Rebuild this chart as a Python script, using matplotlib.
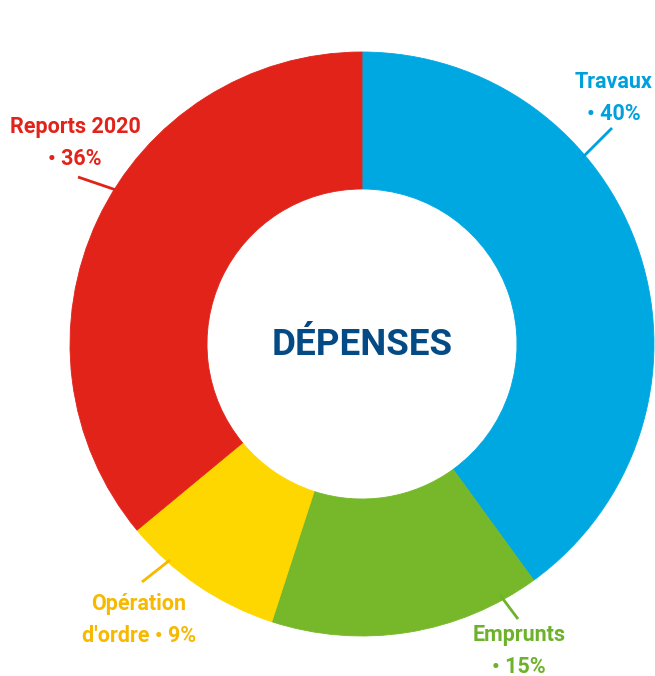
import matplotlib.pyplot as plt

# ── data ──────────────────────────────────────────────
categories = ["Travaux", "Emprunts", "Opération d'ordre", "Reports 2020"]
shares = [40, 15, 9, 36]
colors = ["#00A8E1", "#76B82A", "#FFD700", "#E2231A"]
text_colors = ["#00A0DC", "#6DB22A", "#F7B900", "#E2231A"]
label_texts = ["Travaux\n• 40%", "Emprunts\n• 15%", "Opération\nd'ordre • 9%", "Reports 2020\n• 36%"]

W, H = 655, 676
plt.rcParams["font.family"] = ["Roboto", "DejaVu Sans"]

fig = plt.figure(figsize=(W / 100, H / 100), dpi=100)
ax = fig.add_axes([0, 0, 1, 1])


def fy(y):
    # image pixel row -> data y
    return H - y


wedges, _ = ax.pie(
    shares, colors=colors, startangle=90, counterclock=False,
    radius=292, center=(362, fy(344)),
    wedgeprops=dict(width=292 - 155, linewidth=0.6),
)
for w, c in zip(wedges, colors):
    w.set_edgecolor(c)

# leader lines (layout, image pixel coords)
leaders = [((612, 128), (580, 160)),
           ((518, 619), (500, 595)),
           ((142, 582), (170, 560)),
           ((78, 177), (122, 192))]
label_pos = [(614, 98), (519, 651), (139, 620), (75, 143)]

for (p0, p1), (lx, ly), txt, tc in zip(leaders, label_pos, label_texts, text_colors):
    ax.plot([p0[0], p1[0]], [fy(p0[1]), fy(p1[1])], color=tc, lw=2.0,
            solid_capstyle="butt", zorder=1)
    ax.text(lx, fy(ly), txt, color=tc, fontsize=15.5, fontweight="bold",
            ha="center", va="center", linespacing=1.6)

ax.text(362, fy(345), "DÉPENSES", color="#044A84", fontsize=26.5,
        fontweight="bold", ha="center", va="center")

ax.set_xlim(0, W)
ax.set_ylim(0, H)
ax.set_aspect("equal")
ax.axis("off")

fig.savefig("out.png", dpi=100)
